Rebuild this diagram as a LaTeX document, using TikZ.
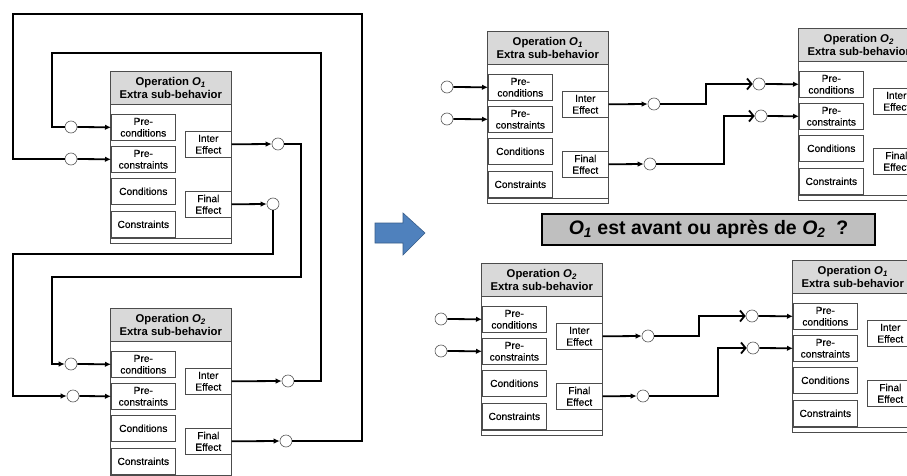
\documentclass[tikz,border=0pt]{standalone}
\usepackage{fontspec}
\setmainfont{Liberation Sans}
\newfontface\subface[FakeBold=0.35]{Liberation Sans}
\usetikzlibrary{arrows.meta}
\newcommand{\hdrfont}{\fontsize{11.3}{12.6}\selectfont\bfseries}
\newcommand{\subfont}{\subface\fontsize{10.2}{11.6}\selectfont}
\newcommand{\opblock}[4]{%
  \node[blk] (#1) at (#2,#3) {};
  \node[hdr] (#1h) at (#2,#3) {Operation \textit{O\textsubscript{#4}}\\Extra sub-behavior};
  \draw[thinl] (#2,{#3+167}) -- ({#2+121},{#3+167});
  \node[subbox] (#1pc) at ({#2+1},{#3+43}) {Pre-\\conditions};
  \node[subbox] (#1pk) at ({#2+1},{#3+75}) {Pre-\\constraints};
  \node[subbox] (#1c) at ({#2+1},{#3+107}) {Conditions};
  \node[subbox] (#1k) at ({#2+1},{#3+140}) {Constraints};
  \node[effbox] (#1ie) at ({#2+75},{#3+60}) {Inter\\Effect};
  \node[effbox] (#1fe) at ({#2+75},{#3+120}) {Final\\Effect};
}
\definecolor{boxline}{gray}{0.3}
\definecolor{hdrgray}{gray}{0.85}
\definecolor{ttlgray}{gray}{0.75}
\definecolor{bluefill}{RGB}{79,129,189}
\definecolor{blueline}{RGB}{56,93,138}
\tikzset{
  thinl/.style={draw=boxline, line width=0.6pt},
  blk/.style={thinl, fill=white, minimum width=121pt, minimum height=172pt, inner sep=0pt, anchor=north west},
  hdr/.style={thinl, fill=hdrgray, minimum width=121pt, minimum height=33pt, inner sep=0pt, anchor=north west, align=center, font=\hdrfont},
  subbox/.style={thinl, fill=white, minimum width=64pt, minimum height=26pt, inner sep=0pt, anchor=north west, align=center, font=\subfont},
  effbox/.style={subbox, minimum width=46pt},
  port/.style={circle, draw=black!65, fill=white, minimum size=12pt, inner sep=0pt, line width=0.6pt},
  wire/.style={line width=1.8pt, draw=black},
  conn/.style={wire, -{Latex[length=6pt,width=5.5pt]}},
  bigconn/.style={wire, -{Straight Barb[length=4.5pt,width=11pt]}},
}
\begin{document}
\begin{tikzpicture}[x=1pt,y=-1pt]
\useasboundingbox (0,0) rectangle (907,476);
\fill[white] (0,0) rectangle (907,476);
\clip (0,0) rectangle (907,476);

% ---------------- left panel ----------------
\opblock{L1}{110}{71}{1}
\opblock{L2}{110}{308}{2}

\node[port] (cLa) at (71,127) {};
\node[port] (cLb) at (71,159) {};
\node[port] (cLc) at (278,144) {};
\node[port] (cLd) at (273,204) {};
\node[port] (cLe) at (71,364) {};
\node[port] (cLf) at (73,396) {};
\node[port] (cLg) at (288,381) {};
\node[port] (cLh) at (286,441) {};

\draw[conn] (L1ie.east) -- (cLc.west);
\draw[conn] (L1fe.east) -- (cLd.west);
\draw[conn] (L2ie.east) -- (cLg.west);
\draw[conn] (L2fe.east) -- (cLh.west);
\draw[conn] (cLa.east) -- (L1pc.west);
\draw[conn] (cLb.east) -- (L1pk.west);
\draw[conn] (cLe.east) -- (L2pc.west);
\draw[conn] (cLf.east) -- (L2pk.west);

\draw[wire] (cLh.east) -| (362,14) -| (13,159) -- (cLb.west);
\draw[wire] (cLg.east) -| (321,53) -| (52,127) -- (cLa.west);
\draw[conn] (cLc.east) -| (301,277) -| (52,364) -- (cLe.west);
\draw[conn] (cLd.south) -- (273,254) -| (13,396) -- (cLf.west);

% ---------------- blue arrow ----------------
\filldraw[fill=bluefill, draw=blueline, line width=0.6pt]
  (375,223) -- (403,223) -- (403,213) -- (425,233) -- (403,255) -- (403,243) -- (375,243) -- cycle;

% ---------------- top right ----------------
\opblock{A1}{487}{31}{1}
\opblock{A2}{798}{28}{2}

\node[port] (cAa) at (447,87) {};
\node[port] (cAb) at (447,119) {};
\node[port] (cAc) at (654,104) {};
\node[port] (cAd) at (650,164) {};
\node[port] (cAe) at (759,84) {};
\node[port] (cAf) at (761,116) {};

\draw[conn] (cAa.east) -- (A1pc.west);
\draw[conn] (cAb.east) -- (A1pk.west);
\draw[conn] (A1ie.east) -- (cAc.west);
\draw[conn] (A1fe.east) -- (cAd.west);
\draw[bigconn] (cAc.east) -| (706,84) -- (cAe.west);
\draw[bigconn] (cAd.east) -| (724,116) -- (cAf.west);
\draw[conn] (cAe.east) -- (A2pc.west);
\draw[conn] (cAf.east) -- (A2pk.west);

% ---------------- title ----------------
\node[draw=black, line width=1.5pt, fill=ttlgray, minimum width=333pt, minimum height=31pt, inner sep=0pt,
      font=\fontsize{19.5}{22}\selectfont\bfseries] (ttl) at (708.5,229.5)
  {\textit{O\textsubscript{1}} est avant ou après de \textit{O\textsubscript{2}}\ \ ?};

% ---------------- bottom right ----------------
\opblock{B2}{481}{263}{2}
\opblock{B1}{792}{260}{1}

\node[port] (cBa) at (441,319) {};
\node[port] (cBb) at (441,351) {};
\node[port] (cBc) at (648,336) {};
\node[port] (cBd) at (643,396) {};
\node[port] (cBe) at (752,316) {};
\node[port] (cBf) at (753,348) {};

\draw[conn] (cBa.east) -- (B2pc.west);
\draw[conn] (cBb.east) -- (B2pk.west);
\draw[conn] (B2ie.east) -- (cBc.west);
\draw[conn] (B2fe.east) -- (cBd.west);
\draw[bigconn] (cBc.east) -| (699,316) -- (cBe.west);
\draw[bigconn] (cBd.east) -| (718,348) -- (cBf.west);
\draw[conn] (cBe.east) -- (B1pc.west);
\draw[conn] (cBf.east) -- (B1pk.west);
\end{tikzpicture}
\end{document}
